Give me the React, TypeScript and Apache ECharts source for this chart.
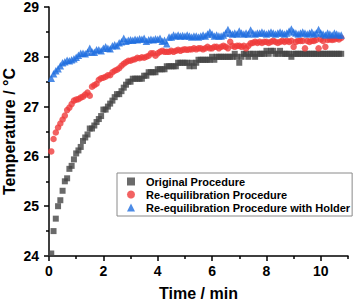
import React, { useEffect, useRef } from "react";
import * as echarts from "echarts";

const seriesNames = [
  "Original Procedure",
  "Re-equilibration Procedure",
  "Re-equilibration Procedure with Holder",
];

const timeMin = [
  0.083, 0.167, 0.25, 0.333, 0.417, 0.5, 0.583, 0.667, 0.75, 0.833, 0.917, 1.0,
  1.083, 1.167, 1.25, 1.333, 1.417, 1.5, 1.583, 1.667, 1.75, 1.833, 1.917, 2.0,
  2.083, 2.167, 2.25, 2.333, 2.417, 2.5, 2.583, 2.667, 2.75, 2.833, 2.917, 3.0,
  3.083, 3.167, 3.25, 3.333, 3.417, 3.5, 3.583, 3.667, 3.75, 3.833, 3.917, 4.0,
  4.083, 4.167, 4.25, 4.333, 4.417, 4.5, 4.583, 4.667, 4.75, 4.833, 4.917, 5.0,
  5.083, 5.167, 5.25, 5.333, 5.417, 5.5, 5.583, 5.667, 5.75, 5.833, 5.917, 6.0,
  6.083, 6.167, 6.25, 6.333, 6.417, 6.5, 6.583, 6.667, 6.75, 6.833, 6.917, 7.0,
  7.083, 7.167, 7.25, 7.333, 7.417, 7.5, 7.583, 7.667, 7.75, 7.833, 7.917, 8.0,
  8.083, 8.167, 8.25, 8.333, 8.417, 8.5, 8.583, 8.667, 8.75, 8.833, 8.917, 9.0,
  9.083, 9.167, 9.25, 9.333, 9.417, 9.5, 9.583, 9.667, 9.75, 9.833, 9.917, 10.0,
  10.083, 10.167, 10.25, 10.333, 10.417, 10.5, 10.583, 10.667, 10.75,
];

const originalTemp = [
  24.05, 24.5, 24.75, 25.0, 25.12, 25.31, 25.5, 25.56, 25.75, 25.81, 25.94, 26.06,
  26.12, 26.19, 26.31, 26.38, 26.44, 26.56, 26.56, 26.62, 26.69, 26.75, 26.81, 26.94,
  26.94, 27.0, 27.06, 27.12, 27.19, 27.25, 27.25, 27.31, 27.38, 27.44, 27.5, 27.5,
  27.56, 27.56, 27.56, 27.56, 27.56, 27.62, 27.62, 27.69, 27.69, 27.69, 27.69, 27.75,
  27.75, 27.75, 27.75, 27.81, 27.81, 27.81, 27.81, 27.81, 27.88, 27.88, 27.88, 27.88,
  27.88, 27.81, 27.88, 27.81, 27.88, 27.94, 27.94, 27.94, 27.94, 27.94, 27.94, 28.0,
  27.94, 28.0, 28.0, 28.0, 28.0, 28.0, 28.0, 28.0, 28.0, 28.06, 28.0, 27.88,
  28.0, 28.06, 28.06, 28.0, 28.06, 28.06, 28.0, 28.06, 28.06, 28.06, 28.06, 28.12,
  28.06, 28.12, 28.12, 28.06, 28.06, 28.12, 28.06, 28.06, 28.06, 28.06, 28.0, 28.06,
  28.06, 28.06, 28.06, 28.06, 28.06, 28.06, 28.06, 28.06, 28.06, 28.06, 28.06, 28.06,
  28.06, 28.06, 28.06, 28.06, 28.06, 28.06, 28.06, 28.06, 28.06,
];

const reequilTemp = [
  26.1, 26.35, 26.48, 26.58, 26.66, 26.74, 26.82, 26.93, 26.98, 27.05, 27.12, 27.14,
  27.15, 27.18, 27.2, 27.24, 27.28, 27.22, 27.4, 27.43, 27.46, 27.54, 27.57, 27.58,
  27.6, 27.63, 27.63, 27.69, 27.72, 27.74, 27.77, 27.82, 27.86, 27.89, 27.92, 27.92,
  27.94, 27.95, 27.98, 27.97, 27.99, 27.98, 28.0, 28.02, 28.07, 28.07, 28.02, 28.07,
  28.1, 28.12, 28.1, 28.1, 28.1, 28.12, 28.1, 28.12, 28.14, 28.12, 28.14, 28.15,
  28.14, 28.15, 28.15, 28.17, 28.15, 28.17, 28.17, 28.15, 28.17, 28.2, 28.17, 28.17,
  28.2, 28.2, 28.17, 28.2, 28.22, 28.2, 28.17, 28.3, 28.22, 28.2, 28.22, 28.22,
  28.2, 28.22, 28.17, 28.22, 28.27, 28.28, 28.3, 28.28, 28.3, 28.28, 28.3, 28.3,
  28.28, 28.3, 28.32, 28.3, 28.28, 28.3, 28.32, 28.3, 28.32, 28.3, 28.32, 28.2,
  28.3, 28.32, 28.32, 28.32, 28.17, 28.32, 28.3, 28.32, 28.32, 28.34, 28.17, 28.35,
  28.32, 28.2, 28.34, 28.35, 28.34, 28.35, 28.37, 28.35, 28.38,
];

const holderTemp = [
  27.57, 27.66, 27.72, 27.76, 27.82, 27.88, 27.9, 27.93, 27.92, 27.94, 27.96, 27.99,
  28.03, 28.07, 28.07, 28.06, 28.09, 28.17, 28.1, 28.09, 28.14, 28.14, 28.12, 28.17,
  28.2, 28.17, 28.16, 28.22, 28.24, 28.22, 28.28, 28.3, 28.37, 28.31, 28.33, 28.34,
  28.33, 28.35, 28.34, 28.36, 28.35, 28.37, 28.31, 28.34, 28.35, 28.34, 28.36, 28.35,
  28.37, 28.31, 28.33, 28.26, 28.4, 28.4, 28.44, 28.42, 28.44, 28.42, 28.43, 28.42,
  28.44, 28.42, 28.4, 28.42, 28.42, 28.4, 28.42, 28.44, 28.42, 28.46, 28.5, 28.46,
  28.42, 28.44, 28.42, 28.42, 28.44, 28.48, 28.55, 28.48, 28.46, 28.48, 28.46, 28.52,
  28.48, 28.46, 28.48, 28.46, 28.54, 28.48, 28.46, 28.48, 28.48, 28.5, 28.48, 28.46,
  28.48, 28.5, 28.48, 28.46, 28.48, 28.5, 28.48, 28.46, 28.48, 28.52, 28.56, 28.5,
  28.48, 28.46, 28.48, 28.5, 28.48, 28.46, 28.48, 28.5, 28.46, 28.48, 28.55, 28.48,
  28.46, 28.44, 28.48, 28.46, 28.44, 28.48, 28.46, 28.44, 28.44,
];

const xMajorTicks = [0, 2, 4, 6, 8, 10];
const xMinorTicks = [1, 3, 5, 7, 9, 11];

const colors = ["#454545", "#ef3b3b", "#1f6ee0"];
const symbols = ["rect", "circle", "triangle"];
const symbolSizes = [6, 6.5, 7.5];

const FONT = "'Liberation Sans', Arial, sans-serif";

export default function App() {
  const ref = useRef<HTMLDivElement>(null);
  useEffect(() => {
    if (!ref.current) return;
    const chart = echarts.init(ref.current, null, { renderer: "svg" });
    const series = [originalTemp, reequilTemp, holderTemp].map((vals, k) => ({
      name: seriesNames[k],
      type: "scatter",
      symbol: symbols[k],
      symbolSize: symbolSizes[k],
      itemStyle: { color: colors[k] },
      data: vals.map((v, i) => [timeMin[i], v]),
    }));
    const axisLine = { show: true, lineStyle: { color: "#000", width: 1.5 } };
    chart.setOption({
      animation: false,
      grid: { left: 49, right: 5, top: 7, bottom: 46, containLabel: false, outerBoundsMode: "none" },
      legend: {
        orient: "vertical",
        left: 117,
        top: 173,
        padding: [3, 2, 3, 10],
        itemWidth: 8,
        itemHeight: 8,
        itemGap: 2,
        borderColor: "#8a8a8a",
        borderWidth: 1,
        textStyle: {
          fontFamily: FONT,
          fontWeight: "bold",
          fontSize: 11,
          color: "#000",
          padding: [0, 0, 0, 6],
        },
        data: seriesNames,
      },
      xAxis: [
        {
          type: "value",
          min: 0,
          max: 11,
          interval: 2,
          name: "Time / min",
          nameLocation: "middle",
          nameGap: 29,
          nameMoveOverlap: false,
          nameTextStyle: { fontFamily: FONT, fontWeight: "bold", fontSize: 16, color: "#000" },
          axisLine,
          splitLine: { show: false },
          axisTick: { show: true, length: 5, lineStyle: { width: 1.5, color: "#000" }, customValues: xMajorTicks },
          axisLabel: {
            margin: 8,
            fontFamily: FONT,
            fontWeight: "bold",
            fontSize: 14,
            color: "#000",
            customValues: xMajorTicks,
          },
        },
        {
          type: "value",
          min: 0,
          max: 11,
          interval: 1,
          position: "bottom",
          axisLine: { show: false },
          splitLine: { show: false },
          axisTick: { show: true, length: 3, lineStyle: { width: 1.5, color: "#000" }, customValues: xMinorTicks },
          axisLabel: { show: false },
        },
      ],
      yAxis: {
        type: "value",
        min: 24,
        max: 29,
        interval: 1,
        name: "Temperature / °C",
        nameLocation: "middle",
        nameGap: 32,
        nameMoveOverlap: false,
        nameTextStyle: { fontFamily: FONT, fontWeight: "bold", fontSize: 16, color: "#000" },
        axisLine,
        splitLine: { show: false },
        axisTick: { show: true, length: 5, lineStyle: { width: 1.5, color: "#000" } },
        minorTick: { show: true, splitNumber: 2, length: 3, lineStyle: { width: 1.5, color: "#000" } },
        axisLabel: { margin: 10, fontFamily: FONT, fontWeight: "bold", fontSize: 14, color: "#000" },
      },
      series,
    });
    return () => chart.dispose();
  }, []);
  return (
    <div
      ref={ref}
      style={{ position: "fixed", left: 0, top: 0, width: 353, height: 302, background: "#fff" }}
    />
  );
}
